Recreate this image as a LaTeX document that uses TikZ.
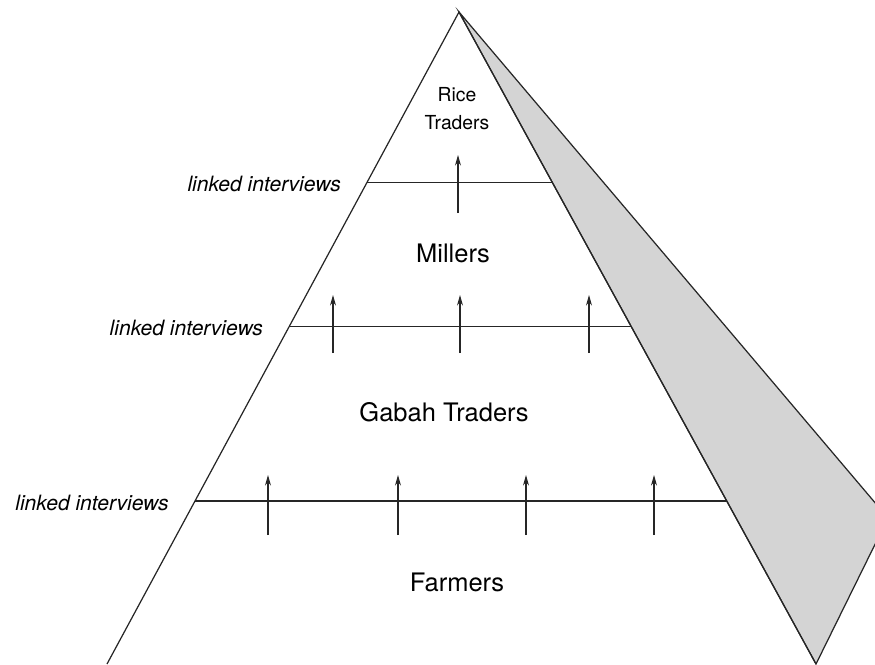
\documentclass[tikz,border=0pt]{standalone}
\usepackage{fontspec}
\setmainfont{TeX Gyre Heros}
\usetikzlibrary{calc,arrows.meta}

\begin{document}
\begin{tikzpicture}[x=0.02cm,y=-0.02cm,>={Stealth[length=6pt,width=3.4pt]}]
        \tikzstyle{edge}=[draw, line width=0.7pt, black!85]
        \tikzstyle{level}=[font=\fontsize{14.5}{16}\selectfont, inner sep=0pt]
        \tikzstyle{link}=[font=\fontsize{12}{14}\selectfont\itshape, anchor=east, inner sep=0pt]
        \tikzstyle{flow}=[->, line width=0.6pt, black!85]
        \useasboundingbox (0,0) rectangle (875,664);
        \clip (0,0) rectangle (875,664);
       \begin{scope}
         \coordinate (apex) at (459,12);
         \coordinate (bl) at (107,664);
         \coordinate (br) at (816,664);
         \coordinate (back) at (888,518);
         % shaded side face
         \path[edge, fill=black!17] (apex) -- (back) -- (br) -- cycle;
         \path[edge] (bl) -- (apex) -- (br);
         % tier lines
         \foreach \n/\f in {1/0.261,2/0.482,3/0.750} {
           \coordinate (l\n) at ($(apex)!\f!(bl)$);
           \coordinate (r\n) at ($(apex)!\f!(br)$);
           \path[edge] (l\n) -- (r\n);
           \node [link] (li\n) at ($(l\n)+(-26,2)$) {linked interviews};
         }
         % arrows
         \coordinate (s11) at (458,213); \coordinate (t11) at (458,155);
         \draw[flow] (s11) -- (t11);
         \foreach \x [count=\i] in {333,460,589} {
           \coordinate (s2\i) at (\x,353); \coordinate (t2\i) at (\x,295);
           \draw[flow] (s2\i) -- (t2\i);
         }
         \foreach \x [count=\i] in {268,398,526,654} {
           \coordinate (s3\i) at (\x,535); \coordinate (t3\i) at (\x,475);
           \draw[flow] (s3\i) -- (t3\i);
         }
         % levels
         \node [level, font=\fontsize{11}{16}\selectfont, align=center] (rice) at (457,109) {Rice\\Traders};
         \node [level] (millers) at (453,253) {Millers};
         \node [level] (gabah) at (444,412) {Gabah Traders};
         \node [level] (farmers) at (457,582) {Farmers};
        \end{scope}
\end{tikzpicture}
\end{document}
